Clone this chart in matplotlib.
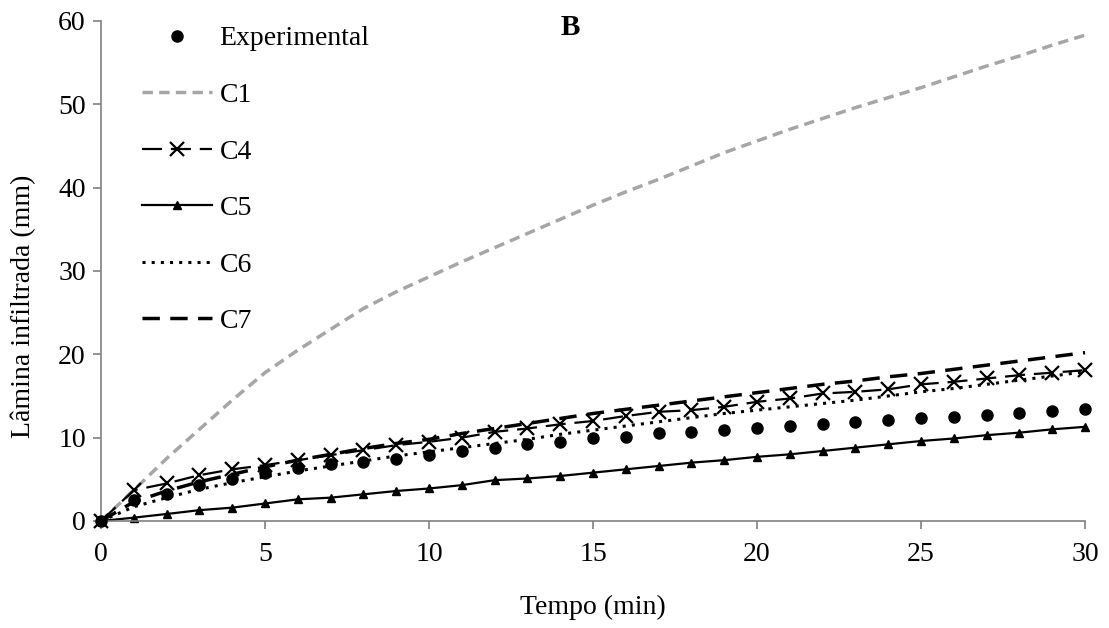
import matplotlib.pyplot as plt

# Tempo (min)
tempo = list(range(0, 31))

# Lamina infiltrada (mm)
experimental = [0, 2.5, 3.2, 4.3, 5.0, 5.7, 6.3, 6.8, 7.1, 7.4, 7.9,
                8.4, 8.7, 9.2, 9.5, 9.9, 10.1, 10.5, 10.7, 10.9, 11.1,
                11.4, 11.6, 11.9, 12.1, 12.3, 12.5, 12.7, 13.0, 13.2, 13.4]
c1 = [0, 3.7, 7.5, 11.0, 14.5, 17.8, 20.5, 23.0, 25.5, 27.5, 29.3,
      31.1, 32.8, 34.5, 36.2, 37.9, 39.5, 41.0, 42.6, 44.2, 45.6,
      47.0, 48.3, 49.6, 50.8, 52.0, 53.3, 54.6, 55.8, 57.1, 58.3]
c4 = [0, 3.7, 4.5, 5.5, 6.2, 6.7, 7.3, 7.9, 8.5, 9.1, 9.5,
      10.0, 10.7, 11.1, 11.6, 12.0, 12.6, 13.1, 13.3, 13.7, 14.3,
      14.7, 15.3, 15.5, 15.8, 16.4, 16.7, 17.1, 17.5, 17.8, 18.1]
c5 = [0, 0.4, 0.84, 1.3, 1.6, 2.1, 2.6, 2.8, 3.2, 3.6, 3.9,
      4.3, 4.9, 5.1, 5.4, 5.8, 6.2, 6.6, 7.0, 7.3, 7.7,
      8.0, 8.4, 8.8, 9.2, 9.6, 9.9, 10.3, 10.6, 11.0, 11.3]
c6 = [0, 1.7, 2.8, 3.8, 4.6, 5.3, 6.0, 6.6, 7.2, 7.8, 8.3,
      8.8, 9.3, 9.8, 10.4, 10.9, 11.4, 11.9, 12.4, 12.9, 13.3,
      13.7, 14.1, 14.5, 15.0, 15.5, 15.9, 16.4, 16.9, 17.4, 17.9]
c7 = [0, 2.3, 3.6, 4.7, 5.6, 6.5, 7.3, 8.0, 8.7, 9.3, 9.8,
      10.5, 11.1, 11.7, 12.3, 12.9, 13.4, 13.9, 14.4, 14.9, 15.4,
      15.9, 16.4, 16.8, 17.3, 17.7, 18.2, 18.7, 19.2, 19.7, 20.2]

plt.rcParams['font.family'] = ['Liberation Serif', 'DejaVu Serif']
plt.rcParams['font.size'] = 20

fig = plt.figure(figsize=(11.09, 6.28), dpi=100)
ax = fig.add_axes([0.0911, 0.1704, 0.8873, 0.7962])

ax.plot(tempo, experimental, linestyle='none', marker='o', color='black',
        markersize=8, label='Experimental', clip_on=False, zorder=5)
ax.plot(tempo, c1, color='#a6a6a6', linestyle=(0, (3, 1.8)), linewidth=2.5,
        label='C1', clip_on=False)
ax.plot(tempo, c4, color='black', linestyle=(0, (9, 4)), linewidth=1.6,
        marker='x', markersize=10, markeredgewidth=1.6, label='C4', clip_on=False)
ax.plot(tempo, c5, color='black', linestyle='-', linewidth=1.6,
        marker='^', markersize=5.5, label='C5', clip_on=False)
ax.plot(tempo, c6, color='black', linestyle=(0, (1, 2)), linewidth=2.2,
        label='C6', clip_on=False)
ax.plot(tempo, c7, color='black', linestyle=(0, (5, 3)), linewidth=2.5,
        label='C7', clip_on=False)

ax.set_xlim(0, 30)
ax.set_ylim(0, 60)
ax.set_xticks(range(0, 31, 5))
ax.set_yticks(range(0, 61, 10))

for s in ['top', 'right']:
    ax.spines[s].set_visible(False)
for s in ['left', 'bottom']:
    ax.spines[s].set_color('#808080')
    ax.spines[s].set_linewidth(1.2)
ax.tick_params(direction='out', length=6, width=1.2, color='#808080',
               labelsize=20)
ax.tick_params(axis='y', pad=5)
ax.tick_params(axis='x', pad=9)

ax.set_xlabel('Tempo (min)', fontsize=20, labelpad=20)
ax.set_ylabel('Lâmina infiltrada (mm)', fontsize=20)
ax.yaxis.set_label_coords(-0.066, 0.43)

ax.text(0.477, 0.986, 'B', transform=ax.transAxes, fontsize=21,
        fontweight='bold', ha='center', va='center')

ax.legend(loc='upper left', bbox_to_anchor=(0.042, 0.99), frameon=False,
          borderaxespad=0, borderpad=0, handlelength=2.5, handletextpad=0.28,
          labelspacing=1.12, fontsize=20)

fig.savefig('out.png', dpi=100)
